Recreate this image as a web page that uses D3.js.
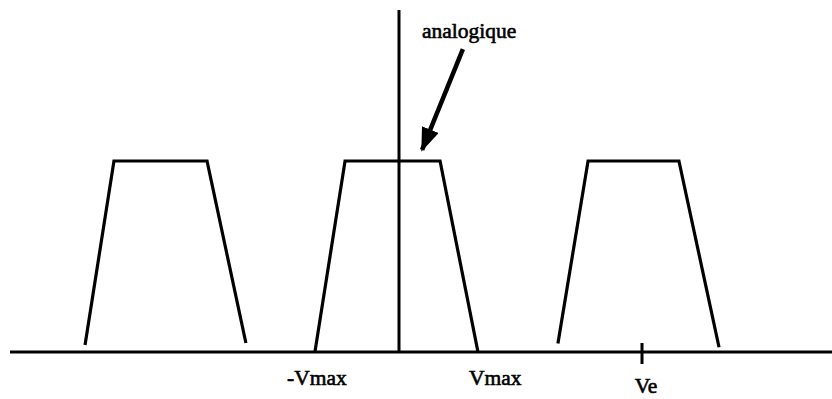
<!DOCTYPE html>
<html>
<head>
<meta charset="utf-8">
<script src="https://cdn.jsdelivr.net/npm/d3@7"></script>
<style>
  html, body { margin: 0; padding: 0; background: #fff; }
</style>
</head>
<body>
<div id="chart"></div>
<script>
// frequency axis in units of Ve, amplitude normalised to the plateau
const spectrumLeft = [[-1.292, 0.037], [-1.173, 1], [-0.790, 1], [-0.630, 0.047]];
const spectrumCenter = [[-0.346, 0], [-0.222, 1], [0.169, 1], [0.325, 0]];
const spectrumRight = [[0.654, 0.045], [0.778, 1], [1.152, 1], [1.317, 0.025]];
const spectra = [spectrumLeft, spectrumCenter, spectrumRight];

const tickLabels = ["-Vmax", "Vmax", "Ve"];
const tickLabelPos = [-0.461, 0.288, 0.97];
const tickMarks = [1];

const annotationText = "analogique";
const annotationFrom = [0.263, 1.586];
const annotationTo = [0.095, 1.058];

const width = 832;
const height = 399;
const serif = 'Liberation Serif, Times New Roman, serif';

const x = d3.scaleLinear()
    .domain([0, 1])
    .range([399, 642]);

const y = d3.scaleLinear()
    .domain([0, 1])
    .range([352, 161]);

const svg = d3.select('#chart')
    .append('svg')
    .attr('width', width)
    .attr('height', height)
    .attr('viewBox', [0, 0, width, height]);

svg.append('defs')
    .append('marker')
    .attr('id', 'head')
    .attr('markerUnits', 'userSpaceOnUse')
    .attr('viewBox', '0 0 24 18')
    .attr('refX', 22)
    .attr('refY', 9)
    .attr('markerWidth', 24)
    .attr('markerHeight', 18)
    .attr('orient', 'auto')
    .append('path')
    .attr('d', 'M0,0 L24,9 L0,18 Z')
    .attr('fill', '#000');

// horizontal (frequency) axis
svg.append('line')
    .attr('x1', 10)
    .attr('x2', width)
    .attr('y1', y(0))
    .attr('y2', y(0))
    .attr('stroke', '#000')
    .attr('stroke-width', 3);

// vertical axis
svg.append('line')
    .attr('x1', x(0))
    .attr('x2', x(0))
    .attr('y1', y(0))
    .attr('y2', y(1.79))
    .attr('stroke', '#000')
    .attr('stroke-width', 3);

const line = d3.line()
    .x(d => x(d[0]))
    .y(d => y(d[1]));

svg.append('g')
    .selectAll('path')
    .data(spectra)
    .join('path')
    .attr('d', line)
    .attr('fill', 'none')
    .attr('stroke', '#000')
    .attr('stroke-width', 3.2)
    .attr('stroke-linejoin', 'miter');

svg.append('g')
    .selectAll('line')
    .data(tickMarks)
    .join('line')
    .attr('x1', d => x(d))
    .attr('x2', d => x(d))
    .attr('y1', y(0) - 9)
    .attr('y2', y(0) + 12)
    .attr('stroke', '#000')
    .attr('stroke-width', 3);

svg.append('g')
    .selectAll('text')
    .data(tickLabels)
    .join('text')
    .text(d => d)
    .attr('x', (d, i) => x(tickLabelPos[i]))
    .attr('y', (d, i) => d === 'Ve' ? 393 : 385)
    .attr('font-family', serif)
    .attr('font-size', '21.5px')
    .attr('fill', '#000')
    .attr('stroke', '#000')
    .attr('stroke-width', 0.6)
    .attr('text-anchor', 'start');

svg.append('text')
    .text(annotationText)
    .attr('x', 422)
    .attr('y', 38)
    .attr('font-family', serif)
    .attr('font-size', '21.5px')
    .attr('fill', '#000')
    .attr('stroke', '#000')
    .attr('stroke-width', 0.6);

svg.append('line')
    .attr('x1', x(annotationFrom[0]))
    .attr('y1', y(annotationFrom[1]))
    .attr('x2', x(annotationTo[0]))
    .attr('y2', y(annotationTo[1]))
    .attr('stroke', '#000')
    .attr('stroke-width', 4.5)
    .attr('marker-end', 'url(#head)');
</script>
</body>
</html>
